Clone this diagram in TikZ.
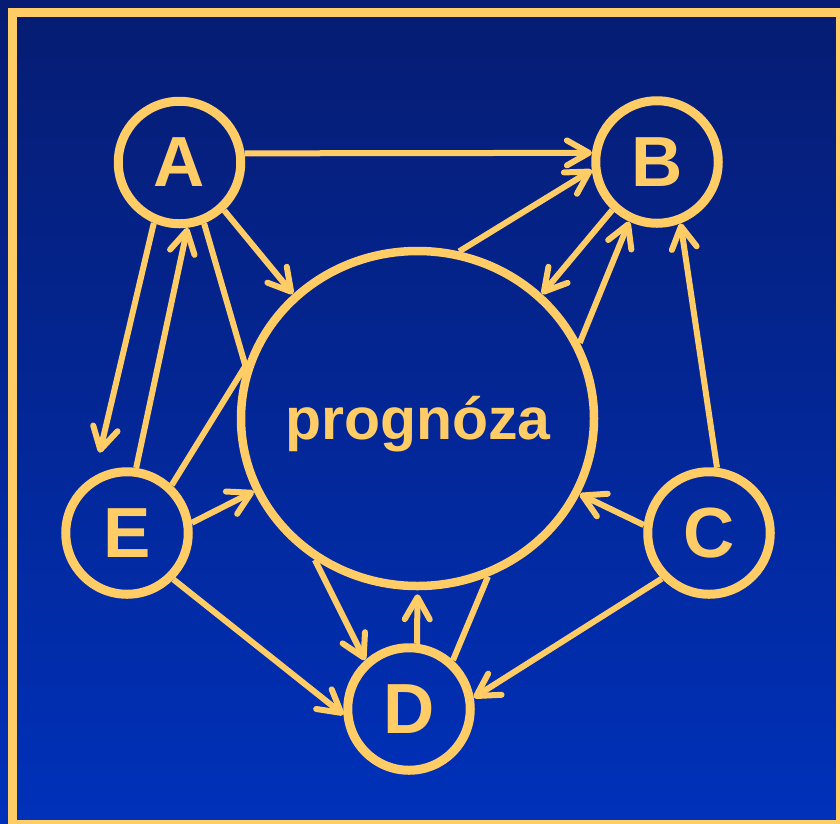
\documentclass[tikz,border=0pt]{standalone}
\usepackage{fontspec}
\setmainfont{Liberation Sans}
\usetikzlibrary{arrows.meta,shapes.geometric}
\definecolor{gold}{HTML}{FFCC66}
\definecolor{bgtop}{HTML}{061C72}
\definecolor{bgbot}{HTML}{0031B9}
\begin{document}
\begin{tikzpicture}[x=1pt,y=-1pt,
  letter/.style={circle,draw=gold,line width=9pt,minimum size=122.5pt,inner sep=0pt,text=gold,font=\bfseries\fontsize{71}{71}\selectfont},
  conn/.style={draw=gold,line width=6pt,-{Straight Barb[length=22pt,width=25pt,round]}},
  plainline/.style={draw=gold,line width=6pt}]
\useasboundingbox (0,0) rectangle (840,823);
\shade[top color=bgtop,bottom color=bgbot] (0,0) rectangle (840,823);
\begin{scope}
\clip (0,0) rectangle (840,823);
\draw[gold,line width=9pt] (12,12) rectangle (840.5,824.2);
\end{scope}
\node[letter] (A) at (179.5,162.5) {A};
\node[letter] (B) at (657,162) {B};
\node[letter] (E) at (127,533) {E};
\node[letter] (C) at (709,533) {C};
\node[letter] (D) at (409,709) {D};
\node[ellipse,draw=gold,line width=8.5pt,minimum width=353pt,minimum height=335pt,inner sep=0pt] (P) at (417.5,418.5) {};
\node[text=gold,font=\bfseries\fontsize{59}{59}\selectfont,inner sep=0pt] (Pt) at (418,424.5) {prognóza};
\draw[conn] (A.8) -- (B.172);
\draw[conn] (A.-47) -- (P.135);
\draw[conn,shorten >=24pt] (A.-113) -- (E.120);
\draw[conn] (E.82) -- (A.-83.5);
\draw[plainline] (A.-68) -- (P.163) -- (E.47);
\draw[conn] (E.9) -- (P.-156);
\draw[conn] (E.-45.6) -- (D.185);
\draw[conn] (P.-126.5) -- (D.132);
\draw[conn,shorten >=4pt] (D.83) -- (P.-90);
\draw[plainline] (D.48) -- (P.-66);
\draw[conn] (C.-136) -- (D.10.5);
\draw[conn] (C.173) -- (P.-25);
\draw[conn] (C.83) -- (B.-69);
\draw[conn] (P.76.4) -- (B.187);
\draw[conn] (B.-133) -- (P.45);
\draw[conn] (P.25) -- (B.-115);
\end{tikzpicture}
\end{document}
